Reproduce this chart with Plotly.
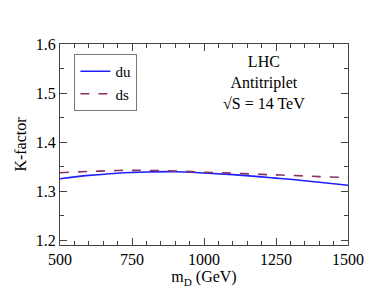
import plotly.graph_objects as go

m_D = [500, 600, 700, 750, 800, 900, 1000, 1100, 1200, 1250, 1300, 1400, 1500]
k_du = [1.325, 1.332, 1.3365, 1.338, 1.339, 1.3395, 1.337, 1.3335, 1.329, 1.3265, 1.324, 1.318, 1.312]
k_ds = [1.3375, 1.340, 1.342, 1.3425, 1.342, 1.341, 1.3385, 1.3365, 1.334, 1.333, 1.332, 1.3295, 1.3275]

font = "Liberation Serif, Times New Roman, serif"

fig = go.Figure()
fig.add_trace(go.Scatter(x=m_D, y=k_du, mode="lines", name="du",
                         line=dict(color="#1f1fff", width=1.6, shape="spline")))
fig.add_trace(go.Scatter(x=m_D, y=k_ds, mode="lines", name="ds",
                         line=dict(color="#883366", width=1.6, dash="dash", shape="spline")))

axis_common = dict(showgrid=False, zeroline=False, showline=True, linecolor="#444",
                   linewidth=1, mirror="ticks", ticks="inside", ticklen=7, tickwidth=1,
                   tickcolor="#444", tickfont=dict(family=font, size=16, color="black"))

fig.update_xaxes(range=[500, 1500], dtick=250, tick0=500,
                 minor=dict(ticks="inside", dtick=50, ticklen=4, tickcolor="#444", showgrid=False),
                 title=dict(text="m<sub>D</sub> (GeV)", font=dict(family=font, size=16, color="black"),
                            standoff=0),
                 **axis_common)
fig.update_yaxes(range=[1.19, 1.6], dtick=0.1, tick0=1.2, tickformat=".1f",
                 minor=dict(ticks="inside", dtick=0.05, ticklen=4, tickcolor="#444", showgrid=False),
                 title=dict(text="K-factor", font=dict(family=font, size=16, color="black"),
                            standoff=5),
                 **axis_common)

fig.add_annotation(xref="paper", yref="paper", x=0.71, y=0.965, showarrow=False,
                   text="LHC<br>Antitriplet<br>√S = 14 TeV", align="center",
                   xanchor="center", yanchor="top",
                   font=dict(family=font, size=16, color="black"))

fig.update_layout(
    width=368, height=283,
    margin=dict(l=50, r=28, t=36, b=44),
    paper_bgcolor="white", plot_bgcolor="white",
    showlegend=True,
    legend=dict(x=0.05, y=0.95, xanchor="left", yanchor="top",
                bordercolor="#777", borderwidth=1, bgcolor="white",
                font=dict(family=font, size=15, color="black"),
                itemwidth=30, tracegroupgap=0),
)

fig.write_html("out.html")
